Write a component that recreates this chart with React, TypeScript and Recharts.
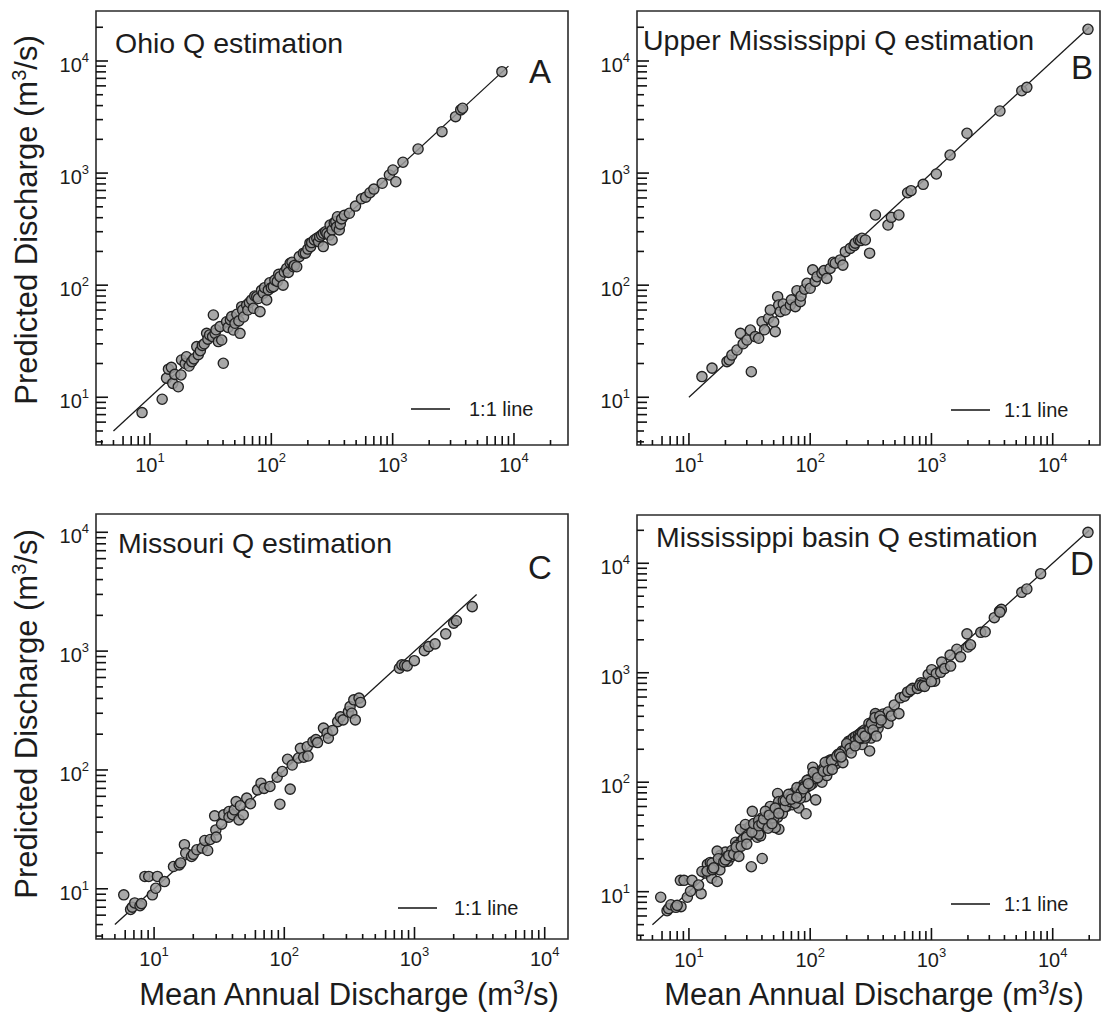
import { ScatterChart, Scatter, XAxis, YAxis, ReferenceLine, ReferenceArea } from "recharts";

const FONT = "'Liberation Sans', Arial, Helvetica, sans-serif";
const INK = "#1c1c1c";

// [mean annual discharge, predicted discharge] in m3/s
const ohio: [number, number][] = [
  [8.6, 7.3], [12.6, 9.6], [13.7, 14.8], [14.2, 17.8], [15, 18.5], [15.4, 13.3], [16, 16],
  [17.1, 12.4], [18, 15.8], [18.2, 21.5], [19.5, 20], [20, 23], [21, 19], [22.1, 20.8],
  [23, 22], [24.3, 28.3], [25, 24], [26, 26], [27, 29], [28, 30], [29.3, 37.2], [30, 33],
  [31, 36], [32.8, 34.8], [33.3, 54.2], [34.4, 37.2], [35, 40], [36.6, 31.4], [37.8, 42.7],
  [39, 32.4], [40.2, 20.1], [42.8, 47.2], [44, 42], [46, 49], [47.1, 52.4], [48.6, 39.8],
  [50.2, 45.7], [52, 55], [54, 48], [55.2, 37.2], [57, 64.3], [58, 60], [59, 52],
  [62.6, 66.5], [64, 60], [66, 70], [68.9, 73.8], [71.1, 62.2], [73, 80], [75.8, 78.9],
  [78, 76], [80.7, 58.1], [83, 90], [86, 84.7], [88, 95], [91.6, 73.8], [94.5, 90.7],
  [97, 105], [100, 95], [104, 97], [107, 111], [112, 108], [115, 125], [118, 119],
  [125, 100], [128, 131], [134, 141], [138, 130], [143, 157], [148, 160], [152, 146],
  [155, 150], [162, 146], [170, 180], [184, 193], [191, 193], [200, 210], [208, 237],
  [211, 221], [215, 240], [226, 253], [237, 262], [245, 245], [250, 271], [260, 280],
  [268, 221], [269, 290], [280, 300], [287, 290], [300, 280], [305, 344], [317, 311],
  [317, 253], [330, 360], [340, 369], [345, 330], [351, 408], [363, 311], [370, 350],
  [380, 390], [400, 420], [440, 438], [494, 508], [554, 590], [600, 610], [650, 668],
  [700, 720], [820, 811], [940, 962], [1005, 1066], [1062, 837], [1216, 1250],
  [1620, 1640], [2550, 2340], [3300, 3185], [3640, 3660], [3770, 3790], [7950, 8030],
];

const upperMississippi: [number, number][] = [
  [12.8, 15.3], [15.5, 18.2], [20.6, 20.8], [21.5, 21.5], [22.6, 23.8], [24.9, 26.4],
  [26.6, 37.2], [28, 30], [30.1, 32.4], [32.1, 39.8], [32.7, 16.9], [35.2, 34.8],
  [37.6, 33.6], [40.1, 47.2], [42, 40], [45.4, 50.7], [46.9, 60.1], [50, 47], [51.5, 38.5],
  [53.9, 78.9], [55, 66.5], [56.7, 58], [60, 68], [62.4, 60], [68.6, 66.5], [70, 74],
  [75.4, 64.3], [77.8, 89.3], [82.8, 71.3], [84, 80], [90, 92], [94.2, 104], [100, 93.8],
  [105, 137], [110, 108], [114, 119], [125, 128], [130, 135], [137, 115], [146, 141],
  [155, 160], [161, 157], [177, 168], [186, 151], [195, 199], [214, 213], [230, 225],
  [235, 237], [251, 253], [260, 250], [267, 262], [285, 253], [309, 193], [345, 423],
  [438, 344], [467, 403], [539, 423], [636, 668], [679, 697], [855, 794], [1097, 982],
  [1425, 1449], [1964, 2265], [3670, 3580], [5560, 5430], [6120, 5820], [19540, 19180],
];

const missouri: [number, number][] = [
  [5.85, 8.9], [6.6, 6.7], [6.8, 7.0], [7.1, 7.6], [7.8, 7.2], [8.0, 7.5], [8.5, 12.7],
  [9.1, 12.7], [9.7, 8.9], [10.3, 10.1], [10.6, 12.7], [12, 11.5], [14.1, 15.4],
  [15.6, 15.9], [16, 16.5], [17.1, 23.5], [17.5, 20], [19.4, 18.7], [20, 19.5],
  [21.3, 21.3], [23.4, 22], [24.5, 25.5], [25.8, 21], [27, 26], [29.2, 41.1], [29.8, 31.3],
  [30, 27.2], [33, 35], [34.2, 41.9], [37.6, 44.7], [37.6, 40], [40, 42], [41.3, 46.2],
  [42.7, 54.2], [44.9, 38], [46, 50], [48.4, 41.9], [51.5, 58], [55, 52], [62.3, 68],
  [66.3, 77.4], [70, 70], [77.6, 72.6], [88.1, 87], [92.5, 51.5], [96.6, 97], [106, 123],
  [111, 69], [115, 110], [128.5, 126], [133, 152], [141, 128], [150, 157], [152, 131],
  [166, 173], [175, 180], [180, 170], [200, 225], [213, 204], [218, 185], [235, 215],
  [257, 255], [270, 280], [283, 264], [311, 310], [320, 341], [330, 300], [342, 389],
  [351, 264], [375, 402], [385, 370], [766, 718], [800, 766], [840, 760], [879, 751],
  [997, 831], [1191, 1009], [1285, 1092], [1439, 1151], [1738, 1397], [2000, 1718],
  [2100, 1800], [2775, 2367],
];

// the whole basin is the three sub-basins together
const basin: [number, number][] = [...ohio, ...upperMississippi, ...missouri];

// 1:1 line extent per panel
const ohioLine = [5, 9000];
const upperLine = [10, 20000];
const missouriLine = [5, 3000];
const basinLine = [5, 20000];

const decades = [1, 10, 100, 1000, 10000];
const steps = [1, 2, 3, 4, 5, 6, 7, 8, 9];

const logTicks = (min: number, max: number) =>
  decades.flatMap((d) => steps.map((s) => s * d)).filter((v) => v >= min && v <= max);

const mantissa = (v: number) => Math.round(v / 10 ** Math.floor(Math.log10(v) + 1e-9));

const XTick = (props: any) => {
  const { x, y, payload } = props;
  const v = payload.value;
  const m = mantissa(v);
  const len = m === 1 ? 12 : m <= 5 ? 5 : 9;
  return (
    <g>
      <line x1={x} x2={x} y1={y} y2={y - len} stroke="#111" strokeWidth={1.6} />
      {m === 1 && (
        <text x={x} y={y + 27} textAnchor="middle" fontFamily={FONT} fontSize={20} fill={INK}>
          10
          <tspan dy={-10} fontSize={13}>
            {Math.round(Math.log10(v))}
          </tspan>
        </text>
      )}
    </g>
  );
};

const YTick = (props: any) => {
  const { x, y, payload } = props;
  const v = payload.value;
  const m = mantissa(v);
  const len = m === 1 ? 12 : m <= 5 ? 7 : 10;
  return (
    <g>
      <line x1={x} x2={x + len} y1={y} y2={y} stroke="#111" strokeWidth={1.6} />
      {m === 1 && (
        <text x={x - 7} y={y + 11} textAnchor="end" fontFamily={FONT} fontSize={20} fill={INK}>
          10
          <tspan dy={-10} fontSize={13}>
            {Math.round(Math.log10(v))}
          </tspan>
        </text>
      )}
    </g>
  );
};

const Dot = (props: any) => (
  <circle
    cx={props.cx}
    cy={props.cy}
    r={5.1}
    fill="#999999"
    fillOpacity={0.85}
    stroke="#222"
    strokeWidth={1.35}
  />
);

const W = 1102;
const H = 1034;

interface PanelProps {
  points: [number, number][];
  line: number[];
  xDomain: [number, number];
  yDomain: [number, number];
  box: { l: number; t: number; r: number; b: number };
}

function Panel({ points, line, xDomain, yDomain, box }: PanelProps) {
  const data = points.map(([x, y]) => ({ x, y }));
  return (
    <div style={{ position: "absolute", left: 0, top: 0 }}>
      <ScatterChart
        width={W}
        height={H}
        margin={{ top: box.t, right: W - box.r, bottom: H - box.b - 40, left: box.l - 60 }}
      >
        <XAxis
          type="number"
          dataKey="x"
          scale="log"
          domain={xDomain}
          allowDataOverflow
          ticks={logTicks(xDomain[0], xDomain[1])}
          interval={0}
          tick={<XTick />}
          tickLine={false}
          axisLine={false}
          tickSize={0}
          tickMargin={0}
          height={40}
        />
        <YAxis
          type="number"
          dataKey="y"
          scale="log"
          domain={yDomain}
          allowDataOverflow
          ticks={logTicks(yDomain[0], yDomain[1])}
          interval={0}
          tick={<YTick />}
          tickLine={false}
          axisLine={false}
          tickSize={0}
          tickMargin={0}
          width={60}
        />
        <ReferenceArea
          x1={xDomain[0]}
          x2={xDomain[1]}
          y1={yDomain[0]}
          y2={yDomain[1]}
          fill="none"
          fillOpacity={0}
          stroke="#2b2b2b"
          strokeWidth={1.6}
          ifOverflow="visible"
        />
        <ReferenceLine
          segment={[
            { x: line[0], y: line[0] },
            { x: line[1], y: line[1] },
          ]}
          stroke="#1a1a1a"
          strokeWidth={1.3}
        />
        <Scatter data={data} shape={<Dot />} isAnimationActive={false} />
      </ScatterChart>
    </div>
  );
}

const Sup = ({ children }: { children: string }) => (
  <>
    <tspan dy={-11} fontSize={20}>
      {children}
    </tspan>
    <tspan dy={11}>/s)</tspan>
  </>
);

function Annotations() {
  const t = { fontFamily: FONT, fill: INK };
  const legend = (lx: number, ly: number, tx: number) => (
    <g>
      <line x1={lx} x2={lx + 39} y1={ly} y2={ly} stroke="#111" strokeWidth={1.5} />
      <text x={tx} y={ly + 7} fontSize={20} {...t}>
        1:1 line
      </text>
    </g>
  );
  return (
    <svg width={W} height={H} style={{ position: "absolute", left: 0, top: 0, pointerEvents: "none" }}>
      <text x={115} y={53} fontSize={28.5} {...t}>Ohio Q estimation</text>
      <text x={643} y={50} fontSize={28.5} {...t}>Upper Mississippi Q estimation</text>
      <text x={118} y={553} fontSize={28.5} {...t}>Missouri Q estimation</text>
      <text x={656} y={547} fontSize={28.5} {...t}>Mississippi basin Q estimation</text>

      <text x={529} y={83} fontSize={33} {...t}>A</text>
      <text x={1071} y={79} fontSize={33} {...t}>B</text>
      <text x={528} y={579} fontSize={33} {...t}>C</text>
      <text x={1070} y={575} fontSize={33} {...t}>D</text>

      {legend(411, 409, 469)}
      {legend(951, 410, 1004)}
      {legend(398, 908, 454)}
      {legend(951, 904, 1004)}

      <text x={37} y={220} fontSize={31} textAnchor="middle" transform="rotate(-90 37 220)" {...t}>
        Predicted Discharge (m<Sup>3</Sup>
      </text>
      <text x={37} y={714} fontSize={31} textAnchor="middle" transform="rotate(-90 37 714)" {...t}>
        Predicted Discharge (m<Sup>3</Sup>
      </text>
      <text x={349} y={1005} fontSize={31} textAnchor="middle" {...t}>
        Mean Annual Discharge (m<Sup>3</Sup>
      </text>
      <text x={874} y={1005} fontSize={31} textAnchor="middle" {...t}>
        Mean Annual Discharge (m<Sup>3</Sup>
      </text>
    </svg>
  );
}

export default function App() {
  return (
    <div style={{ position: "absolute", left: 0, top: 0, width: W, height: H, background: "#fff" }}>
      <Panel
        points={ohio}
        line={ohioLine}
        xDomain={[3.59, 27870]}
        yDomain={[3.75, 27930]}
        box={{ l: 96, t: 11, r: 568, b: 445 }}
      />
      <Panel
        points={upperMississippi}
        line={upperLine}
        xDomain={[3.73, 24550]}
        yDomain={[3.75, 27930]}
        box={{ l: 637, t: 11, r: 1100, b: 445 }}
      />
      <Panel
        points={missouri}
        line={missouriLine}
        xDomain={[3.58, 15100]}
        yDomain={[3.78, 14250]}
        box={{ l: 96, t: 514, r: 568, b: 939 }}
      />
      <Panel
        points={basin}
        line={basinLine}
        xDomain={[3.73, 24550]}
        yDomain={[3.62, 27600]}
        box={{ l: 637, t: 515, r: 1100, b: 940 }}
      />
      <Annotations />
    </div>
  );
}
